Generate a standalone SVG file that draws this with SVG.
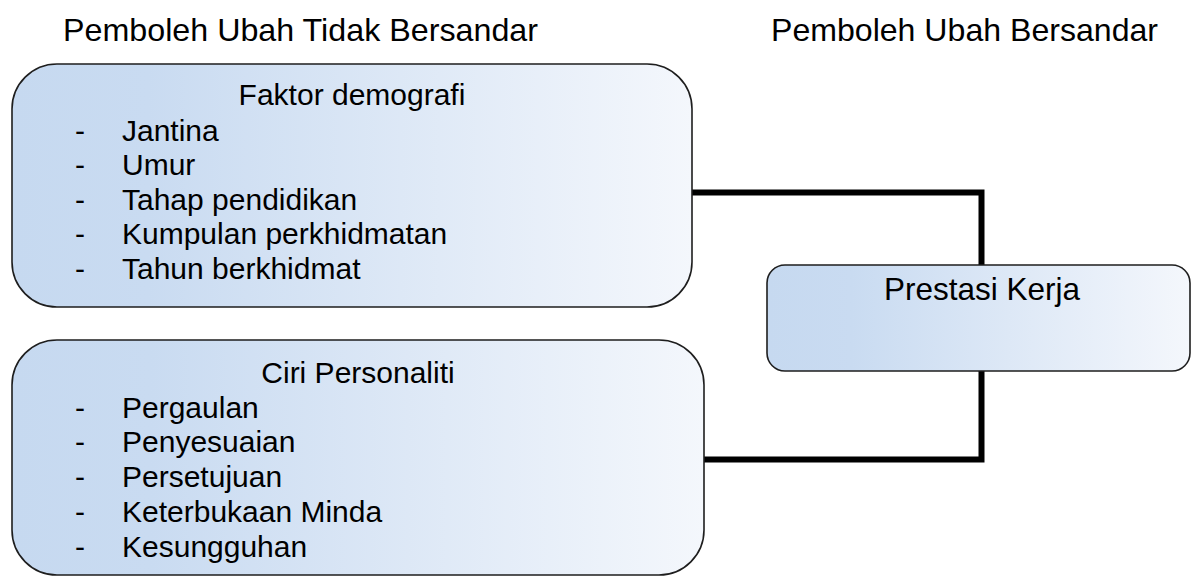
<svg xmlns="http://www.w3.org/2000/svg" width="1192" height="577" viewBox="0 0 1192 577">
<defs>
<linearGradient id="g" x1="0" y1="0" x2="1" y2="0">
<stop offset="0" stop-color="#c6d9f0"/>
<stop offset="0.2" stop-color="#c9dbf1"/>
<stop offset="1" stop-color="#f4f7fc"/>
</linearGradient>
<style>
.box{fill:url(#g);stroke:#1e1e1e;stroke-width:1.6}
text{font-family:"Liberation Sans",Arial,sans-serif;font-size:30px;fill:#000}
.t{font-size:31.5px}
.c{text-anchor:middle}
.conn{fill:none;stroke:#000;stroke-width:6}
</style>
</defs>
<g id="titles">
<text class="t" x="63" y="41" textLength="475" lengthAdjust="spacingAndGlyphs">Pemboleh Ubah Tidak Bersandar</text>
<text class="t" x="771" y="41" textLength="387" lengthAdjust="spacingAndGlyphs">Pemboleh Ubah Bersandar</text>
</g>
<g id="connectors">
<path class="conn" d="M692,192.5 H981.5 V265"/>
<path class="conn" d="M981.5,371 V459.5 H704"/>
</g>
<g id="demografi">
<rect class="box" x="12" y="64" width="680" height="243" rx="45"/>
<text class="c" x="352" y="105">Faktor demografi</text>
<text x="75" y="141">-</text><text x="122" y="141">Jantina</text>
<text x="75" y="175">-</text><text x="122" y="175">Umur</text>
<text x="75" y="210">-</text><text x="122" y="210">Tahap pendidikan</text>
<text x="75" y="244">-</text><text x="122" y="244">Kumpulan perkhidmatan</text>
<text x="75" y="279">-</text><text x="122" y="279">Tahun berkhidmat</text>
</g>
<g id="personaliti">
<rect class="box" x="12" y="340" width="692" height="235" rx="45"/>
<text class="c" x="358" y="383">Ciri Personaliti</text>
<text x="75" y="418">-</text><text x="122" y="418">Pergaulan</text>
<text x="75" y="452">-</text><text x="122" y="452">Penyesuaian</text>
<text x="75" y="487">-</text><text x="122" y="487">Persetujuan</text>
<text x="75" y="522">-</text><text x="122" y="522">Keterbukaan Minda</text>
<text x="75" y="557">-</text><text x="122" y="557">Kesungguhan</text>
</g>
<g id="prestasi">
<rect class="box" x="767" y="265" width="423" height="106" rx="18"/>
<text class="c t" x="982" y="300">Prestasi Kerja</text>
</g>
</svg>
